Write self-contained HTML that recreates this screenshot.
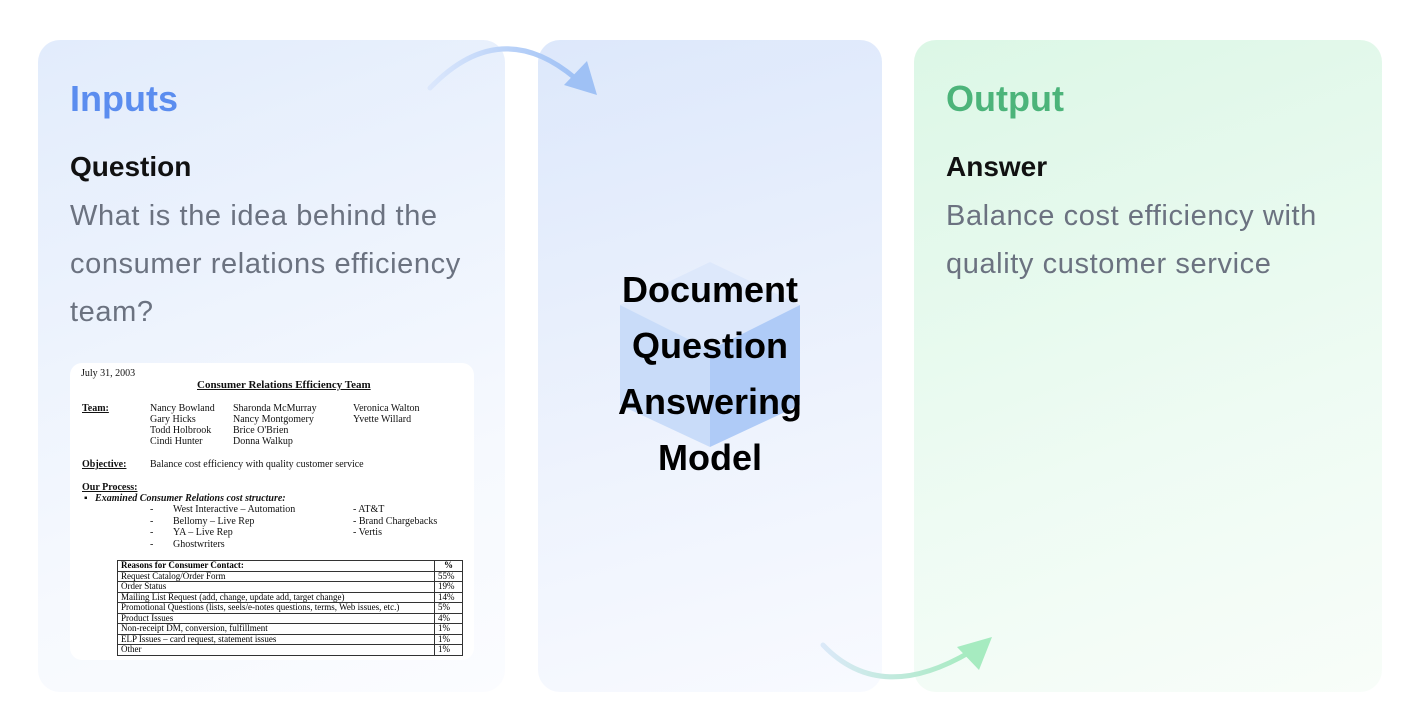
<!DOCTYPE html>
<html><head><meta charset="utf-8"><style>
*{margin:0;padding:0;box-sizing:border-box}
body{width:1414px;height:724px;background:#fff;position:relative;overflow:hidden;font-family:"Liberation Sans",sans-serif}
.p{position:absolute;border-radius:22px}
.t{position:absolute;white-space:nowrap}
.h{font-size:36px;font-weight:bold}
.s{font-size:28px;font-weight:bold;color:#111}
.g{font-size:29px;color:#6b7280;line-height:48px;letter-spacing:0.6px}
.doc{position:absolute;left:70px;top:363px;width:404px;height:297px;background:#fff;border-radius:12px;font-family:"Liberation Serif",serif;font-size:10px;color:#111}
.doc div{position:absolute;white-space:nowrap}
table{position:absolute;left:117px;top:560px;border-collapse:collapse;font-family:"Liberation Serif",serif;font-size:9px;width:346px}
td{border:1px solid #333;padding:0 3px;line-height:9.5px}
td:last-child{width:28px}
</style></head><body>
<div class="p" style="left:38px;top:40px;width:467px;height:652px;background:linear-gradient(160deg,#e2ecfc,#f6f9fe 70%,#fbfcff)"></div>
<div class="p" style="left:538px;top:40px;width:344px;height:652px;background:linear-gradient(165deg,#dde8fb,#eef3fd 60%,#f8faff)"></div>
<div class="p" style="left:914px;top:40px;width:468px;height:652px;background:linear-gradient(160deg,#dcf7e6,#eefbf3 60%,#f8fdf9)"></div>

<svg style="position:absolute;left:0;top:0" width="1414" height="724">
<defs>
<linearGradient id="a1" x1="0" x2="1"><stop offset="0" stop-color="#dbe7fc"/><stop offset="1" stop-color="#9fc1f5"/></linearGradient>
<linearGradient id="a2" x1="0" x2="1"><stop offset="0" stop-color="#dbe9f8"/><stop offset="1" stop-color="#a6ebc0"/></linearGradient>
</defs>
<path d="M430 88 Q500 15 575 78" fill="none" stroke="url(#a1)" stroke-width="5" stroke-linecap="round"/>
<polygon points="597,95 564,85 587,61" fill="#9fc1f5"/>
<path d="M823 645 Q880 705 970 652" fill="none" stroke="url(#a2)" stroke-width="5" stroke-linecap="round"/>
<polygon points="992,637 979,670 957,647" fill="#a6ebc0"/>
<polygon points="710,262 800,305 710,350 620,305" fill="#dde8fb"/>
<polygon points="620,305 710,350 710,447 620,405" fill="#c9dcf9"/>
<polygon points="800,305 710,350 710,447 800,405" fill="#afcbf7"/>
</svg>

<div class="t h" style="left:70px;top:78px;color:#5b8def">Inputs</div>
<div class="t s" style="left:70px;top:151px">Question</div>
<div class="t g" style="left:70px;top:192px">What is the idea behind the<br>consumer relations efficiency<br>team?</div>

<div class="t h" style="left:946px;top:78px;color:#4cb47a">Output</div>
<div class="t s" style="left:946px;top:151px">Answer</div>
<div class="t g" style="left:946px;top:192px">Balance cost efficiency with<br>quality customer service</div>

<div class="t h" style="left:560px;top:262px;width:300px;text-align:center;line-height:56px;color:#000">Document<br>Question<br>Answering<br>Model</div>

<div class="doc">
<div style="left:11px;top:5px">July 31, 2003</div>
<div style="left:127px;top:16px;font-weight:bold;font-size:11px;text-decoration:underline">Consumer Relations Efficiency Team</div>
<div style="left:12px;top:40px;font-weight:bold;text-decoration:underline">Team:</div>
<div style="left:80px;top:40px;line-height:11px">Nancy Bowland<br>Gary Hicks<br>Todd Holbrook<br>Cindi Hunter</div>
<div style="left:163px;top:40px;line-height:11px">Sharonda McMurray<br>Nancy Montgomery<br>Brice O'Brien<br>Donna Walkup</div>
<div style="left:283px;top:40px;line-height:11px">Veronica Walton<br>Yvette Willard</div>
<div style="left:12px;top:96px;font-weight:bold;text-decoration:underline">Objective:</div>
<div style="left:80px;top:96px">Balance cost efficiency with quality customer service</div>
<div style="left:12px;top:119px;font-weight:bold;text-decoration:underline">Our Process:</div>
<div style="left:14px;top:130px;font-weight:bold;font-style:italic">▪&nbsp;&nbsp; Examined Consumer Relations cost structure:</div>
<div style="left:80px;top:141px;line-height:11.5px">-<br>-<br>-<br>-</div>
<div style="left:103px;top:141px;line-height:11.5px">West Interactive – Automation<br>Bellomy – Live Rep<br>YA – Live Rep<br>Ghostwriters</div>
<div style="left:283px;top:141px;line-height:11.5px">- AT&amp;T<br>- Brand Chargebacks<br>- Vertis</div>
</div>
<table>
<tr><td><b>Reasons for Consumer Contact:</b></td><td style="text-align:center"><b>%</b></td></tr>
<tr><td>Request Catalog/Order Form</td><td>55%</td></tr>
<tr><td>Order Status</td><td>19%</td></tr>
<tr><td>Mailing List Request (add, change, update add, target change)</td><td>14%</td></tr>
<tr><td>Promotional Questions (lists, seels/e-notes questions, terms, Web issues, etc.)</td><td>5%</td></tr>
<tr><td>Product Issues</td><td>4%</td></tr>
<tr><td>Non-receipt DM, conversion, fulfillment</td><td>1%</td></tr>
<tr><td>ELP Issues – card request, statement issues</td><td>1%</td></tr>
<tr><td>Other</td><td>1%</td></tr>
</table>
</body></html>
